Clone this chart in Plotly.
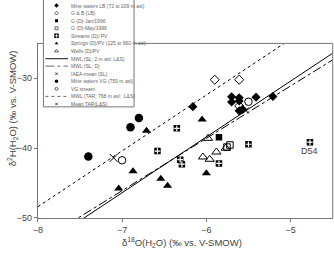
import plotly.graph_objects as go

# ---------------- data ----------------
lb_x = [-6.16, -5.70, -5.70, -5.61, -5.61, -5.41, -5.21, -5.61, -5.57]
lb_y = [-34.06, -32.64, -33.40, -32.78, -33.25, -32.70, -32.60, -34.66, -34.44]
gb_x = [-5.90, -5.61, -5.61]
gb_y = [-30.20, -30.20, -33.96]
gjan_x = [-5.85]
gjan_y = [-38.45]
gmay_x = [-5.755, -5.72]
gmay_y = [-39.85, -39.55]
str_x = [-6.35, -6.58, -6.31, -6.29, -5.50, -4.77, -5.85]
str_y = [-37.17, -40.42, -41.65, -42.30, -39.45, -39.15, -42.20]
spr_x = [-6.71, -6.05, -6.87, -7.04, -6.54, -6.46, -6.00]
spr_y = [-37.5, -35.9, -43.3, -45.8, -44.4, -45.4, -43.6]
well_x = [-5.98, -6.04, -5.96, -5.88, -5.77]
well_y = [-38.60, -41.27, -41.60, -40.56, -40.00]
iaea_x = [-5.53]
iaea_y = [-34.6]
vg_x = [-7.40, -6.90, -6.80]
vg_y = [-41.2, -37.0, -35.7]
vgs_x = [-7.00, -5.50]
vgs_y = [-41.74, -33.35]
tar_x = [-7.10]
tar_y = [-41.4]
# meteoric water lines: slope, intercept
mwl_sl = (8.0, 9.6)
mwl_d = (7.5, 6.4)
mwl_tar = (8.0, 15.6)
line_x = [-8.0, -4.5]

labels = ["Mine waters LB (72 to 209 m asl)", "G &amp; B (LB)", "G (D)-Jan/1996",
          "G (D)-May/1996", "Streams (D)/ PV", "Springs (D)/PV (125 to 960 m asl)",
          "Wells (D)/PV", "MWL (SL; 2 m asl; L&amp;S)", "MWL (SL; D)", "IAEA-mean (SL)",
          "Mine waters VG (750 m asl)", "VG stream", "MWL (TAR; 768 m asl;  L&amp;S)",
          "Mean TAR(L&amp;S)"]

W, H = 334, 253
PL, PR, PT, PB = 33.3, 332.7, 44.3, 222.3   # plot area in pixels

def fx(p):
    return p / W
def fy(p):
    return (H - p) / H

fig = go.Figure()
K = "black"

def pts(x, y, sym, size, color=K, lw=1, lc=K, xa="x", ya="y"):
    fig.add_trace(go.Scatter(x=x, y=y, mode="markers", xaxis=xa, yaxis=ya,
                             marker=dict(symbol=sym, size=size, color=color,
                                         line=dict(width=lw, color=lc)),
                             showlegend=False, hoverinfo="skip"))

def mline(p, dash, xa="x", ya="y", xs=None, ys=None, w=1, c=K):
    if xs is None:
        xs = line_x
        ys = [p[0] * v + p[1] for v in line_x]
    fig.add_trace(go.Scatter(x=xs, y=ys, mode="lines", xaxis=xa, yaxis=ya,
                             line=dict(color=c, width=w, dash=dash),
                             showlegend=False, hoverinfo="skip"))

mline(mwl_sl, "solid")
mline(mwl_d, "dashdot")
mline(mwl_tar, "dot")

pts(lb_x, lb_y, "diamond", 7, lw=0)
pts(gb_x, gb_y, "diamond-open", 7)
pts(gjan_x, gjan_y, "square", 6.5, lw=0)
pts(gmay_x, gmay_y, "square-open", 6.5)
pts(str_x, str_y, "square", 6.5, lw=0)
pts(str_x, str_y, "cross-thin-open", 4, color="white", lc="white", lw=1.2)
pts(spr_x, spr_y, "triangle-up", 8, lw=0)
pts(well_x, well_y, "triangle-up-open", 8)
pts(iaea_x, iaea_y, "x-thin-open", 6)
pts(vg_x, vg_y, "circle", 8.5, lw=0)
pts(vgs_x, vgs_y, "circle-open", 7.5)
pts(tar_x, tar_y, "x-thin-open", 8)

# ---------------- custom legend ----------------
lx0, lx1, ly0, ly1 = 39, 131, 0, 109
rows = [5.7 + 7.72 * i for i in range(14)]
sx = 13.3
leg = [("diamond", 3.5, K, 0, K), ("diamond-open", 3, K, 0.6, K), ("square", 3, K, 0, K),
       ("square-open", 3, K, 0.6, K), ("square", 4.5, K, 0, K), ("triangle-up", 3.5, K, 0, K),
       ("triangle-up-open", 3.5, K, 0.6, K), None, None, ("x-thin-open", 2.5, K, 0.7, K),
       ("circle", 3.5, K, 0, K), ("circle-open", 3, K, 0.6, K), None, ("x-thin-open", 2.5, K, 0.7, K)]
for i, m in enumerate(leg):
    if m is not None:
        pts([sx], [rows[i]], m[0], m[1], color=m[2], lw=m[3], lc=m[4], xa="x2", ya="y2")
pts([sx], [rows[4]], "cross-thin-open", 2.5, color="white", lc="white", lw=0.8, xa="x2", ya="y2")
mline(None, "solid", "x2", "y2", [2, 25], [rows[7], rows[7]], w=1.2, c="#444444")
mline(None, "dashdot", "x2", "y2", [2, 25], [rows[8], rows[8]], w=0.8, c="#444444")
mline(None, "dot", "x2", "y2", [2, 25], [rows[12], rows[12]], w=0.8, c="#444444")
for i, t in enumerate(labels):
    fig.add_annotation(x=26.3, y=rows[i], xref="x2", yref="y2", text=t, showarrow=False,
                       xanchor="left", yanchor="middle",
                       font=dict(size=5, color="#666666", family="Liberation Sans"))

fig.add_shape(type="rect", xref="paper", yref="paper",
              x0=fx(lx0), x1=fx(lx1), y0=fy(ly1), y1=fy(-1),
              line=dict(color="#777777", width=1), layer="above")
# frame: top (split by legend) and right
fig.add_shape(type="line", xref="paper", yref="paper", x0=fx(PL), x1=fx(lx0), y0=fy(PT), y1=fy(PT),
              line=dict(color="#777777", width=1))
fig.add_shape(type="line", xref="paper", yref="paper", x0=fx(lx1), x1=fx(PR), y0=fy(PT), y1=fy(PT),
              line=dict(color="#777777", width=1))
fig.add_shape(type="line", xref="paper", yref="paper", x0=fx(PR), x1=fx(PR), y0=fy(PB), y1=fy(PT),
              line=dict(color="#777777", width=1))

fig.add_annotation(x=-4.77, y=-40.45, xref="x", yref="y", text="D54", showarrow=False,
                   font=dict(size=9, color="#444444", family="Liberation Sans"))

fig.add_annotation(x=fx(180), y=fy(247), xref="paper", yref="paper",
                   text="δ<sup>18</sup>O(H<sub>2</sub>O) (‰ vs. V-SMOW)", showarrow=False,
                   xanchor="center", yanchor="middle",
                   font=dict(size=9.5, color="#444444", family="Liberation Sans"))
fig.add_annotation(x=fx(7.5), y=fy(110), xref="paper", yref="paper",
                   text="δ<sup>2</sup>H(H<sub>2</sub>O) (‰ vs. V-SMOW)", showarrow=False,
                   textangle=-90, xanchor="center", yanchor="middle",
                   font=dict(size=9.5, color="#444444", family="Liberation Sans"))

ax_common = dict(showgrid=False, zeroline=False, showline=True, linecolor="#777777",
                 linewidth=1, ticks="outside", ticklen=3, tickcolor="#777777",
                 tickfont=dict(size=9, color="#444444", family="Liberation Sans"))
fig.update_layout(
    width=W, height=H, margin=dict(l=0, r=0, t=0, b=0, pad=0),
    paper_bgcolor="white", plot_bgcolor="white", showlegend=False,
    xaxis=dict(domain=[fx(PL), fx(PR)], range=[-8, -4.5], tickvals=[-8, -7, -6, -5],
               anchor="y", **ax_common),
    yaxis=dict(domain=[fy(PB), fy(PT)], range=[-50, -25], tickvals=[-50, -40, -30],
               anchor="x", **ax_common),
    xaxis2=dict(domain=[fx(lx0), fx(lx1)], range=[0, lx1 - lx0],
                visible=False, anchor="y2", fixedrange=True),
    yaxis2=dict(domain=[fy(ly1), fy(ly0)], range=[ly1, ly0],
                visible=False, anchor="x2", fixedrange=True),
)
fig.write_html("out.html")
